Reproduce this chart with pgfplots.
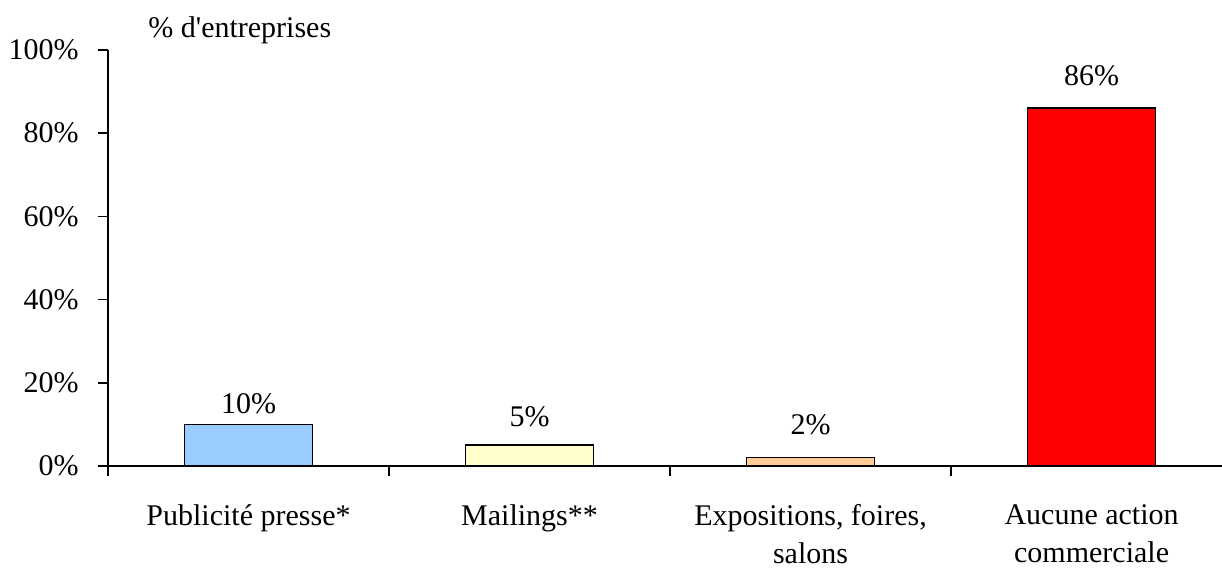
\documentclass[border=0pt]{standalone}
\usepackage{pgfplots}
\pgfplotsset{compat=1.18}
\usepackage{fontspec}
\setmainfont{Liberation Serif}
\definecolor{presse}{HTML}{99CCFF}
\definecolor{mailing}{HTML}{FFFFCC}
\definecolor{expo}{HTML}{FFCC99}
\definecolor{aucune}{HTML}{FF0000}
\begin{document}
\fontsize{15}{19}\selectfont
\begin{tikzpicture}
\begin{axis}[
    name=ax,
    scale only axis,
    width=557pt, height=208pt,
    ymin=0, ymax=100,
    xmin=-0.5, xmax=3.464,
    axis lines*=left,
    axis line style={line width=0.8pt},
    tick align=outside,
    major tick length=5pt,
    minor tick length=5pt,
    tick style={black, line width=0.8pt},
    ytick={0,20,...,100},
    yticklabel={\pgfmathprintnumber{\tick}\%},
    yticklabel style={xshift=-4.5pt},
    /pgf/number format/assume math mode=true,
    xtick={0,1,2,3},
    xticklabels={Publicité presse*, Mailings**, {Expositions, foires,\\salons}, {Aucune action\\commerciale}},
    xticklabel style={align=center, yshift=-9pt},
    major x tick style={draw=none},
    minor xtick={-0.5,0.5,1.5,2.5},
    ybar, bar width=64pt,
    every axis plot/.append style={bar shift=0pt, draw=black, line width=0.8pt},
    nodes near coords={\pgfmathprintnumber{\pgfplotspointmeta}\%},
    clip=false,
]
\addplot[fill=presse, nodes near coords style={anchor=base, yshift=5.5pt}] coordinates {(0,10)};
\addplot[fill=mailing, nodes near coords style={anchor=base, yshift=9.5pt}] coordinates {(1,5)};
\addplot[fill=expo, nodes near coords style={anchor=base, yshift=11.5pt}] coordinates {(2,2)};
\addplot[fill=aucune, nodes near coords style={anchor=base, yshift=11.5pt}] coordinates {(3,86)};
\node[anchor=base west, inner sep=0pt] at (rel axis cs:0,1) [xshift=20pt, yshift=6pt] {\% d\textquotesingle entreprises};
\end{axis}
\pgfresetboundingbox
\path ([shift={(-54pt,-53pt)}]ax.south west) rectangle ([shift={(0pt,25pt)}]ax.north east);
\end{tikzpicture}
\end{document}
